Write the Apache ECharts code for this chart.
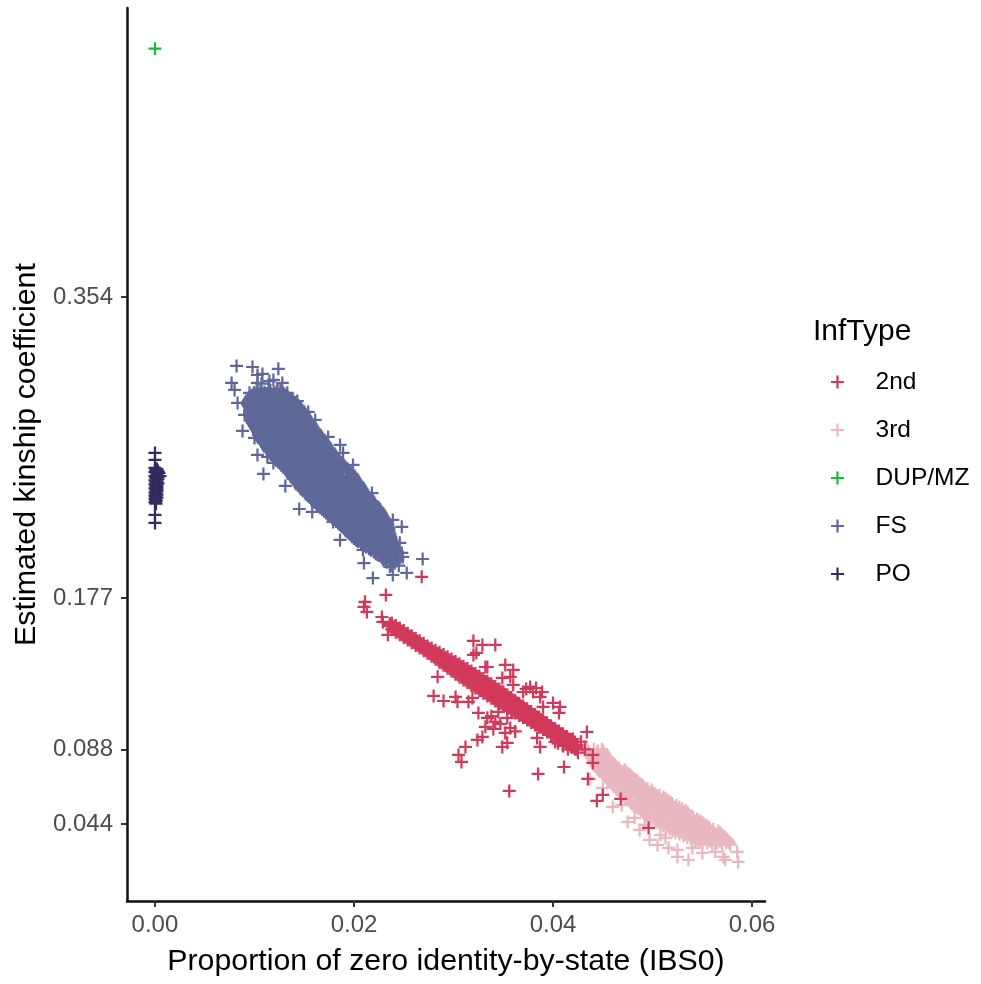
<!DOCTYPE html>
<html><head><meta charset="utf-8">
<style>html,body{margin:0;padding:0;background:#fff}#c{width:981px;height:984px}</style>
<script src="https://cdn.jsdelivr.net/npm/echarts@6/dist/echarts.min.js"></script>
</head><body><div id="c"></div>
<script>
const seriesNames = ['2nd','3rd','DUP/MZ','FS','PO'];
const seriesColors = ['#D1395A','#E8B7BF','#1CB548','#5F6899','#332B5F'];
const xTicks = [0,0.02,0.04,0.06];
const yTicks = [0.044,0.088,0.177,0.354];

// Dense clouds: rows, each [y, x, x, ...]
const fsRows = [
[.300,.0106,.0114,.0123],[.298,.0100,.0110,.0120,.0128],[.296,.0097,.0106,.0116,.0125,.0132],
[.294,.0095,.0103,.0112,.0122,.0131,.0137],[.292,.0093,.0100,.0109,.0119,.0128,.0136,.0141],
[.290,.0094,.0105,.0115,.0125,.0134,.0144],[.288,.0096,.0102,.0112,.0121,.0131,.0140,.0146],
[.286,.0095,.0107,.0118,.0128,.0138,.0149],[.284,.0097,.0104,.0114,.0125,.0135,.0144,.0151],
[.282,.0096,.0109,.0120,.0131,.0141,.0153],[.280,.0098,.0106,.0116,.0127,.0137,.0147,.0156],
[.278,.0100,.0112,.0122,.0133,.0144,.0158],[.276,.0102,.0108,.0118,.0129,.0139,.0150,.0161],
[.274,.0104,.0114,.0125,.0135,.0146,.0156,.0163],[.272,.0105,.0110,.0120,.0131,.0142,.0153,.0166],
[.270,.0107,.0116,.0127,.0138,.0148,.0159,.0168],[.268,.0109,.0112,.0123,.0134,.0144,.0155,.0165,.0171],
[.266,.0112,.0118,.0129,.0140,.0150,.0161,.0173],[.264,.0114,.0125,.0136,.0146,.0157,.0168,.0176],
[.262,.0117,.0121,.0132,.0142,.0153,.0164,.0178],[.260,.0119,.0127,.0138,.0149,.0160,.0170,.0181],
[.258,.0122,.0133,.0144,.0155,.0166,.0177,.0184],[.256,.0126,.0129,.0140,.0151,.0162,.0173,.0188],
[.254,.0129,.0136,.0147,.0158,.0168,.0179,.0191],[.252,.0133,.0142,.0153,.0164,.0175,.0186,.0195],
[.250,.0136,.0138,.0149,.0160,.0171,.0182,.0198],[.248,.0138,.0145,.0156,.0167,.0178,.0189,.0200],
[.246,.0141,.0151,.0162,.0173,.0184,.0195,.0202],[.244,.0144,.0147,.0158,.0169,.0180,.0191,.0205],
[.242,.0146,.0154,.0165,.0176,.0186,.0197,.0207],[.240,.0149,.0160,.0171,.0182,.0193,.0203,.0209],
[.238,.0152,.0156,.0167,.0178,.0189,.0200,.0212],[.236,.0156,.0163,.0174,.0185,.0195,.0206,.0215],
[.234,.0159,.0169,.0180,.0191,.0202,.0212,.0218],[.232,.0163,.0165,.0176,.0187,.0198,.0209,.0221],
[.230,.0166,.0172,.0183,.0194,.0205,.0215,.0224],[.228,.0170,.0178,.0189,.0200,.0211,.0220,.0226],
[.226,.0174,.0185,.0196,.0207,.0218,.0228],[.224,.0178,.0181,.0192,.0203,.0214,.0224,.0230],
[.222,.0182,.0188,.0199,.0210,.0221,.0232],[.220,.0186,.0195,.0206,.0216,.0227,.0234],
[.218,.0190,.0191,.0202,.0213,.0224,.0235],[.216,.0193,.0198,.0209,.0219,.0229,.0235],
[.214,.0197,.0205,.0215,.0226,.0236],[.212,.0200,.0201,.0212,.0222,.0232,.0237],
[.210,.0204,.0208,.0218,.0228,.0238],[.208,.0210,.0215,.0225,.0234,.0239],
[.206,.0215,.0221,.0231,.0240],[.204,.0220,.0228,.0236,.0241],[.202,.0225,.0234,.0242],
[.200,.0231,.0238,.0244],[.198,.0233,.0241],[.196,.0238,.0245],
[.299,.0103,.0116,.0126],[.297,.0099,.0112,.0122,.0130],[.295,.0096,.0108,.0119,.0129,.0134],
[.293,.0094,.0106,.0116,.0126,.0135,.0139],[.291,.0093,.0103,.0113,.0123,.0133,.0142],
[.289,.0095,.0108,.0118,.0128,.0137,.0145],[.287,.0095,.0105,.0115,.0125,.0135,.0144,.0148],
[.285,.0096,.0110,.0120,.0130,.0141,.0150],[.283,.0096,.0107,.0117,.0128,.0138,.0148,.0152],
[.281,.0097,.0112,.0123,.0134,.0144,.0155],[.279,.0099,.0109,.0119,.0130,.0141,.0151,.0157],
[.277,.0101,.0115,.0125,.0136,.0147,.0159],[.275,.0103,.0111,.0121,.0132,.0143,.0153,.0162],
[.273,.0104,.0117,.0128,.0138,.0149,.0159,.0165],[.271,.0106,.0113,.0124,.0134,.0145,.0156,.0167],
[.269,.0108,.0119,.0130,.0141,.0151,.0162,.0170],[.267,.0111,.0115,.0126,.0137,.0147,.0158,.0168,.0172],
[.265,.0113,.0121,.0132,.0143,.0153,.0164,.0175],[.263,.0115,.0128,.0139,.0149,.0160,.0171,.0177],
[.261,.0118,.0124,.0135,.0145,.0156,.0167,.0180],[.259,.0120,.0130,.0141,.0152,.0163,.0173,.0182],
[.257,.0124,.0136,.0147,.0158,.0169,.0180,.0186],[.255,.0127,.0132,.0143,.0154,.0165,.0176,.0190],
[.253,.0131,.0139,.0150,.0161,.0171,.0182,.0193],[.251,.0134,.0145,.0156,.0167,.0178,.0189,.0196],
[.249,.0137,.0141,.0152,.0163,.0174,.0185,.0199],[.247,.0139,.0148,.0159,.0170,.0181,.0192,.0201],
[.245,.0142,.0154,.0165,.0176,.0187,.0198,.0204],[.243,.0145,.0150,.0161,.0172,.0183,.0194,.0206],
[.241,.0147,.0157,.0168,.0179,.0189,.0200,.0208],[.239,.0151,.0163,.0174,.0185,.0196,.0206,.0211],
[.237,.0154,.0159,.0170,.0181,.0192,.0203,.0214],[.235,.0157,.0166,.0177,.0188,.0198,.0209,.0216],
[.233,.0161,.0172,.0183,.0194,.0205,.0215,.0220],[.231,.0164,.0168,.0179,.0190,.0201,.0212,.0222],
[.229,.0168,.0175,.0186,.0197,.0208,.0218,.0225],[.227,.0172,.0181,.0192,.0203,.0214,.0223,.0227],
[.225,.0176,.0188,.0199,.0210,.0221,.0229],[.223,.0180,.0184,.0195,.0206,.0217,.0227,.0231],
[.221,.0184,.0191,.0202,.0213,.0224,.0233],[.219,.0188,.0198,.0209,.0219,.0230,.0234],
[.217,.0191,.0194,.0205,.0216,.0227,.0235],[.215,.0195,.0201,.0212,.0222,.0232,.0236],
[.213,.0198,.0208,.0218,.0229,.0237],[.211,.0202,.0204,.0215,.0225,.0235,.0238],
[.209,.0207,.0211,.0221,.0231,.0239],[.207,.0212,.0218,.0228,.0237,.0240],
[.205,.0217,.0224,.0234,.0241],[.203,.0222,.0231,.0239,.0242],[.201,.0228,.0237,.0243],[.199,.0232,.0240,.0244]
];
const fsLoose = [[.0082,.3134],[.0098,.3128],[.0124,.3117],[.0103,.3081],[.0108,.3087],[.0077,.3034],[.0080,.2993],
[.0083,.2917],[.0088,.2752],[.0100,.2711],[.0103,.2611],[.0109,.2499],[.0131,.2429],[.0145,.2293],[.0158,.2276],
[.0186,.2111],[.0210,.1975],[.0219,.1887],[.0239,.1905],[.0253,.1917],[.0269,.1999],[.0248,.2188],[.0246,.2094],
[.0218,.2387],[.0189,.2623],[.0154,.2864],[.0143,.2928],[.0119,.3052],[.0128,.3034],[.0090,.2846],[.0107,.3030],[.0115,.3045],
[.0199,.2552],[.0239,.2229],[.0249,.2011],[.0241,.1976],[.0113,.2599],[.0119,.2564],[.0179,.2217],[.0209,.2052],[.0229,.1994],
[.0236,.1953],[.0248,.2035],[.0186,.2670],[.0174,.2717],[.0161,.2817],[.0103,.3034],[.0095,.2976],[.0123,.2993],[.0133,.2976]];

// Each [x, y, y, ...]
const secondCols = [
[.0236,.1618,.1606],[.0240,.1603,.1590],[.0244,.1589,.1574],[.0248,.1572,.1559],[.0252,.1558,.1543],[.0256,.1544,.1527],
[.0260,.1527,.1512],[.0264,.1513,.1497],[.0268,.1498,.1481],[.0272,.1484,.1466],[.0276,.1470,.1449],[.0280,.1456,.1431],
[.0284,.1444,.1428,.1412],[.0288,.1431,.1413,.1394],[.0292,.1417,.1397,.1376],[.0296,.1404,.1382,.1360],[.0300,.1392,.1367,.1343],
[.0304,.1379,.1352,.1324],[.0308,.1366,.1336,.1307],[.0312,.1352,.1321,.1290],[.0316,.1338,.1306,.1274],[.0320,.1324,.1291,.1258],
[.0324,.1308,.1275,.1242],[.0328,.1294,.1260,.1226],[.0332,.1279,.1245,.1211],[.0336,.1264,.1230,.1196],[.0340,.1247,.1214,.1180],
[.0344,.1231,.1199,.1165],[.0348,.1215,.1184,.1151],[.0352,.1199,.1169,.1137],[.0356,.1182,.1153,.1123],[.0360,.1166,.1138,.1109],
[.0364,.1150,.1123,.1095],[.0368,.1133,.1108,.1082],[.0372,.1117,.1092,.1068],[.0376,.1100,.1077,.1054],[.0380,.1084,.1062,.1040],
[.0384,.1068,.1047,.1026],[.0388,.1052,.1031,.1011],[.0392,.1036,.1016,.0997],[.0396,.1020,.1001,.0982],[.0400,.1002,.0986,.0968],
[.0404,.0986,.0970,.0953],[.0408,.0970,.0955,.0938],[.0412,.0954,.0940,.0924],[.0416,.0938,.0925,.0909],[.0420,.0922,.0909,.0894],[.0424,.0904,.0894,.0880],
[.0238,.1622,.1603,.1585],[.0242,.1608,.1588,.1568],[.0246,.1593,.1573,.1553],[.0250,.1578,.1558,.1538],[.0254,.1563,.1542,.1522],
[.0258,.1548,.1527,.1507],[.0262,.1533,.1512,.1491],[.0266,.1518,.1497,.1476],[.0270,.1503,.1481,.1460],[.0274,.1488,.1466,.1444],
[.0278,.1475,.1451,.1427],[.0282,.1462,.1436,.1410],[.0286,.1450,.1420,.1391],[.0290,.1437,.1405,.1374],[.0294,.1424,.1390,.1357],
[.0298,.1411,.1375,.1339],[.0302,.1397,.1359,.1322],[.0306,.1383,.1344,.1304],[.0310,.1369,.1329,.1287],[.0314,.1355,.1314,.1272],
[.0318,.1341,.1298,.1255],[.0322,.1326,.1283,.1240],[.0326,.1311,.1268,.1225],[.0330,.1296,.1253,.1210],[.0334,.1280,.1237,.1194],
[.0338,.1265,.1222,.1180],[.0342,.1250,.1207,.1164],[.0346,.1235,.1192,.1149],[.0350,.1218,.1176,.1135],[.0354,.1201,.1161,.1121],
[.0358,.1185,.1146,.1107],[.0362,.1168,.1131,.1094],[.0366,.1151,.1115,.1079],[.0370,.1135,.1100,.1065],[.0374,.1118,.1085,.1052],
[.0378,.1102,.1070,.1038],[.0382,.1085,.1054,.1023],[.0386,.1068,.1039,.1010],[.0390,.1052,.1024,.0996],[.0394,.1036,.1009,.0982],
[.0398,.1019,.0993,.0967],[.0402,.1003,.0978,.0953],[.0406,.0987,.0963,.0939],[.0410,.0972,.0948,.0924],[.0414,.0955,.0932,.0909],
[.0418,.0939,.0917,.0895],[.0422,.0923,.0902,.0881]
];
const secondLoose = [[.0211,.1747],[.0210,.1717],[.0213,.1688],[.0232,.1788],[.0268,.1894],[.0228,.1658],[.0229,.1629],[.0234,.1553],
[.0320,.1517],[.0329,.1494],[.0342,.1494],[.0320,.1435],[.0323,.1447],[.0334,.1364],[.0332,.1364],[.0352,.1376],[.0360,.1347],
[.0357,.1306],[.0349,.1300],[.0360,.1259],[.0377,.1247],[.0370,.1217],[.0380,.1217],[.0389,.1217],[.0387,.1188],[.0400,.1153],
[.0407,.1129],[.0406,.1094],[.0390,.1129],[.0284,.1306],[.0280,.1194],[.0290,.1164],[.0302,.1188],[.0304,.1159],[.0315,.1159],
[.0319,.1182],[.0325,.1094],[.0334,.1065],[.0332,.1012],[.0342,.1041],[.0354,.1065],[.0345,.1100],[.0357,.1006],[.0352,.0976],
[.0329,.0953],[.0324,.0935],[.0312,.0894],[.0305,.0847],[.0308,.0806],[.0349,.0894],[.0354,.0918],[.0384,.0947],[.0387,.0894],
[.0411,.0776],[.0385,.0735],[.0356,.0635],[.0434,.0982],[.0402,.0923],[.0414,.0953],[.0435,.0706],[.0450,.0612],[.0444,.0577],
[.0440,.0847],[.0440,.0800],[.0468,.0588],[.0496,.0418],[.0373,.1235],[.0383,.1240],[.0338,.1075],[.0347,.1030],[.0340,.1000],[.0362,.0985],
[.0420,.0940],[.0428,.0925],[.0432,.0880],[.0415,.0880],[.0425,.0860],[.0410,.0900],[.0405,.0915]];

// Each [y, x, x, ...]
const thirdRows = [
[.088,.0434,.0441,.0449],[.086,.0436,.0444,.0451],[.084,.0438,.0446,.0453],[.082,.0440,.0449,.0457],[.080,.0442,.0451,.0460],
[.078,.0444,.0453,.0463],[.076,.0446,.0456,.0467,.0472],[.074,.0449,.0459,.0469,.0475],[.072,.0452,.0462,.0473,.0479],
[.070,.0457,.0465,.0476,.0484],[.068,.0459,.0469,.0480,.0487],[.066,.0461,.0472,.0483,.0491],[.064,.0467,.0476,.0487,.0499],
[.062,.0469,.0479,.0490,.0502],[.060,.0472,.0483,.0494,.0505,.0511],[.058,.0477,.0487,.0498,.0509,.0515],
[.056,.0479,.0490,.0501,.0512,.0520],[.054,.0483,.0494,.0505,.0516,.0527],[.052,.0489,.0498,.0509,.0520,.0533],
[.050,.0492,.0503,.0513,.0524,.0536],[.048,.0497,.0507,.0518,.0529,.0541],[.046,.0503,.0511,.0522,.0534,.0548],
[.044,.0508,.0516,.0527,.0538,.0552],[.042,.0514,.0521,.0532,.0543,.0557],[.040,.0520,.0526,.0537,.0549,.0566],
[.038,.0527,.0532,.0543,.0555,.0569],[.036,.0535,.0539,.0550,.0562,.0573],[.034,.0543,.0547,.0558,.0568,.0576],[.032,.0550,.0560,.0570,.0578],
[.087,.0435,.0445,.0450],[.085,.0437,.0447,.0452],[.083,.0439,.0450,.0455],[.081,.0441,.0452,.0458],[.079,.0443,.0455,.0461],
[.077,.0445,.0458,.0466],[.075,.0447,.0461,.0470,.0473],[.073,.0450,.0464,.0474,.0477],[.071,.0455,.0467,.0478,.0481],
[.069,.0458,.0472,.0482,.0485],[.067,.0460,.0475,.0486,.0489],[.065,.0464,.0479,.0490,.0495],[.063,.0468,.0483,.0493,.0500],
[.061,.0470,.0486,.0497,.0507],[.059,.0474,.0490,.0501,.0511,.0513],[.057,.0478,.0493,.0505,.0515,.0518],
[.055,.0481,.0497,.0508,.0519,.0524],[.053,.0486,.0501,.0512,.0523,.0530],[.051,.0490,.0505,.0516,.0527,.0535],
[.049,.0494,.0510,.0521,.0532,.0539],[.047,.0500,.0514,.0525,.0537,.0545],[.045,.0505,.0519,.0530,.0541,.0550],
[.043,.0511,.0524,.0535,.0546,.0555],[.041,.0517,.0529,.0540,.0552,.0561],[.039,.0523,.0535,.0546,.0558,.0568],
[.037,.0531,.0542,.0553,.0565,.0571],[.035,.0539,.0550,.0561,.0571,.0575],[.033,.0547,.0555,.0565,.0574,.0577]
];
const thirdLoose = [[.0585,.0277],[.0586,.0218],[.0571,.0247],[.0573,.0230],[.0550,.0271],[.0536,.0230],[.0525,.0247],[.0525,.0288],
[.0505,.0318],[.0497,.0347],[.0508,.0377],[.0487,.0406],[.0482,.0477],[.0469,.0553],[.0460,.0541],[.0450,.0653],[.0437,.0706],
[.0475,.0453],[.0492,.0436],[.0516,.0300],[.0540,.0300],[.0563,.0277],[.0513,.0359]];

const dupPoints = [[0,.5]];
const poPoints = [[.0000,.2623],[.0000,.2582],[.0000,.2258],[.0000,.2211],
[.0000,.2535],[.0002,.2528],[.0001,.2522],[.0003,.2516],[.0000,.2510],[.0004,.2505],[.0002,.2498],[.0005,.2487],[.0000,.2486],[.0003,.2480],
[.0001,.2474],[.0003,.2468],[.0000,.2462],[.0002,.2456],[.0001,.2450],[.0003,.2444],[.0000,.2438],[.0002,.2432],[.0001,.2426],[.0002,.2420],
[.0000,.2414],[.0002,.2408],[.0001,.2402],[.0002,.2396],[.0000,.2390],[.0001,.2384],[.0002,.2378],[.0000,.2372],[.0001,.2366],[.0002,.2360],[.0000,.2354],[.0001,.2348],
[.0001,.2340],[.0000,.2332],[.0001,.2324]];

const fromYRows = rows => rows.flatMap(r => r.slice(1).map(x => [x, r[0]]));
const fromXCols = cols => cols.flatMap(c => c.slice(1).map(y => [c[0], y]));
const seriesData = [
  fromXCols(secondCols).concat(secondLoose),
  fromYRows(thirdRows).concat(thirdLoose),
  dupPoints,
  fromYRows(fsRows).concat(fsLoose),
  poPoints
];
const plus = 'path://M5.8 0h2.4v14H5.8zM0 5.8h14v2.4H0z';
const font = '"Liberation Sans", Arial, sans-serif';
const zs = [3,2,4,2,5];
const chart = echarts.init(document.getElementById('c'));
chart.setOption({
  animation:false,
  backgroundColor:'#fff',
  textStyle:{fontFamily:font},
  grid:{left:127,right:216,top:8,bottom:83,containLabel:false,outerBoundsMode:'none'},
  title:{text:'InfType',left:808,top:312,textStyle:{fontFamily:font,fontSize:30,fontWeight:'normal',color:'#000'}},
  legend:{orient:'vertical',left:826,top:364,itemWidth:66,itemHeight:13,itemGap:22,selectedMode:false,
    data:seriesNames.map(n=>({name:n,icon:plus})),
    textStyle:{fontFamily:font,fontSize:24.5,color:'#000',lineHeight:26}},
  xAxis:{type:'value',min:-0.00281,max:0.0613,splitLine:{show:false},
    name:'Proportion of zero identity-by-state (IBS0)',nameLocation:'middle',nameGap:46,
    nameTextStyle:{fontFamily:font,fontSize:30.3,color:'#000'},
    axisLine:{show:true,onZero:false,lineStyle:{color:'#111',width:2.5}},
    axisTick:{show:true,length:6,lineStyle:{color:'#333',width:2},customValues:xTicks},
    axisLabel:{show:true,color:'#4D4D4D',fontFamily:font,fontSize:24,margin:12,customValues:xTicks,formatter:v=>v.toFixed(2)}},
  yAxis:{type:'value',min:-0.0012,max:0.5239,splitLine:{show:false},
    name:'Estimated kinship coefficient',nameLocation:'middle',nameGap:81,
    nameTextStyle:{fontFamily:font,fontSize:30.4,color:'#000'},
    axisLine:{show:true,onZero:false,lineStyle:{color:'#111',width:2.5}},
    axisTick:{show:true,length:6,lineStyle:{color:'#333',width:2},customValues:yTicks},
    axisLabel:{show:true,color:'#4D4D4D',fontFamily:font,fontSize:24,margin:14,customValues:yTicks,formatter:v=>v.toFixed(3)}},
  series:seriesNames.map((n,i)=>({name:n,type:'scatter',data:seriesData[i],symbol:plus,symbolSize:13,z:zs[i],
    itemStyle:{color:seriesColors[i],opacity:1},emphasis:{disabled:true},silent:true}))
});
</script></body></html>
